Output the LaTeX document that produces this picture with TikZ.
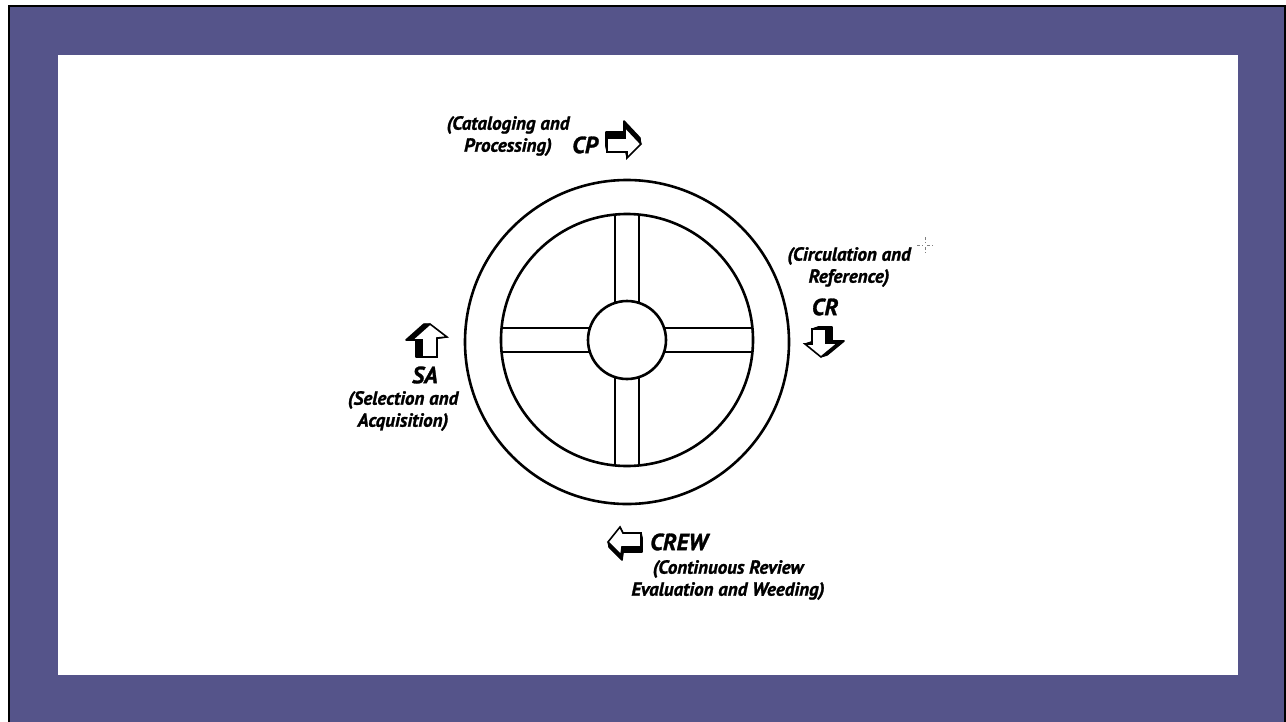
\documentclass[tikz,border=0pt]{standalone}
\usepackage{fontspec}
\setmainfont{PT Sans}[BoldItalicFeatures={FakeBold=1.2}]
\usetikzlibrary{calc}
\definecolor{frame}{RGB}{85,84,138}
\tikzset{
  wheel/.style={draw=black, line width=2.6pt},
  smalltxt/.style={font=\fontsize{19}{22}\selectfont\bfseries\itshape, align=center, inner sep=0pt},
  bigtxt/.style={font=\fontsize{23.5}{26}\selectfont\bfseries\itshape, inner sep=0pt},
  arrowface/.style={fill=white, draw=black, line width=1.6pt, line join=miter},
  arrowext/.style={fill=black, draw=black, line width=1.6pt, line join=round},
}
\newcommand{\blockarrow}[3]{%
  % #1 = polygon path, #2 = dx, #3 = dy of extrusion
  \foreach \t in {1,0.8,0.6,0.4,0.2}{%
    \begin{scope}[shift={(\t*#2,\t*#3)}]
      \path[arrowext] #1 -- cycle;
    \end{scope}}%
  \path[arrowface] #1 -- cycle;
}
\begin{document}
\begin{tikzpicture}[x=1pt,y=-1pt]
\useasboundingbox (0,0) rectangle (1286,721);
\fill[white] (0,0) rectangle (1286,721);
\fill[frame] (10,6) rectangle (1284,722);
\draw[black, line width=2pt] (9,722) -- (9,6) -- (1285,6) -- (1285,722);
\fill[white] (58,55) rectangle (1238,675);

% wheel
\coordinate (c) at (627,340);
\node[wheel, circle, minimum size=324pt, inner sep=0pt] (outer) at (627,342) {};
\node[wheel, circle, minimum size=252pt, inner sep=0pt] (inner) at (c) {};
\node[wheel, circle, minimum size=78pt, inner sep=0pt] (hub) at (c) {};
\draw[wheel] ($(c)+(-12,-125.4)$) -- ($(c)+(-12,-37.1)$);
\draw[wheel] ($(c)+(12,-125.4)$) -- ($(c)+(12,-37.1)$);
\draw[wheel] ($(c)+(-12,125.4)$) -- ($(c)+(-12,37.1)$);
\draw[wheel] ($(c)+(12,125.4)$) -- ($(c)+(12,37.1)$);
\draw[wheel] ($(c)+(-125.4,-12)$) -- ($(c)+(-37.1,-12)$);
\draw[wheel] ($(c)+(-125.4,12)$) -- ($(c)+(-37.1,12)$);
\draw[wheel] ($(c)+(125.4,-12)$) -- ($(c)+(37.1,-12)$);
\draw[wheel] ($(c)+(125.4,12)$) -- ($(c)+(37.1,12)$);

% CP
\node[smalltxt] (cptxt) at (508,136) {(Cataloging and\\Processing)};
\node[bigtxt] (cp) at (585,145) {CP};
\blockarrow{(607,138) -- (625,138) -- (625,127) -- (641,144) -- (627,158) -- (627,152) -- (607,152)}{-1}{-6}

% CR
\node[smalltxt] (crtxt) at (849,267) {(Circulation and\\Reference)};
\node[bigtxt] (cr) at (825,307) {CR};
\blockarrow{(812,329) -- (826,329) -- (826,343) -- (838,343) -- (821,357) -- (805,344) -- (812,344)}{6}{-2}

% SA
\node[bigtxt] (sa) at (425,375) {SA};
\node[smalltxt] (satxt) at (403,411) {(Selection and\\Acquisition)};
\blockarrow{(422,357) -- (422,340) -- (412,340) -- (430,324) -- (447,337) -- (437,338) -- (437,357)}{-6}{0}

% CREW
\node[bigtxt] (crew) at (679,542) {CREW};
\node[smalltxt] (crewtxt) at (728,580) {(Continuous Review\\Evaluation and Weeding)};
\blockarrow{(641,533) -- (623,533) -- (620,527) -- (608,542) -- (621,555) -- (622,547) -- (641,547)}{1}{5}

% cursor mark
\coordinate (cur) at (925,245);
\draw[gray, line width=0.8pt, dash pattern=on 3pt off 2pt] ($(cur)+(0,-8)$) -- ($(cur)+(0,-2)$);
\draw[gray, line width=0.8pt, dash pattern=on 3pt off 2pt] ($(cur)+(0,2)$) -- ($(cur)+(0,8)$);
\draw[gray, line width=0.8pt, dash pattern=on 3pt off 2pt] ($(cur)+(-8,0)$) -- ($(cur)+(-2,0)$);
\draw[gray, line width=0.8pt, dash pattern=on 3pt off 2pt] ($(cur)+(2,0)$) -- ($(cur)+(8,0)$);
\end{tikzpicture}
\end{document}
